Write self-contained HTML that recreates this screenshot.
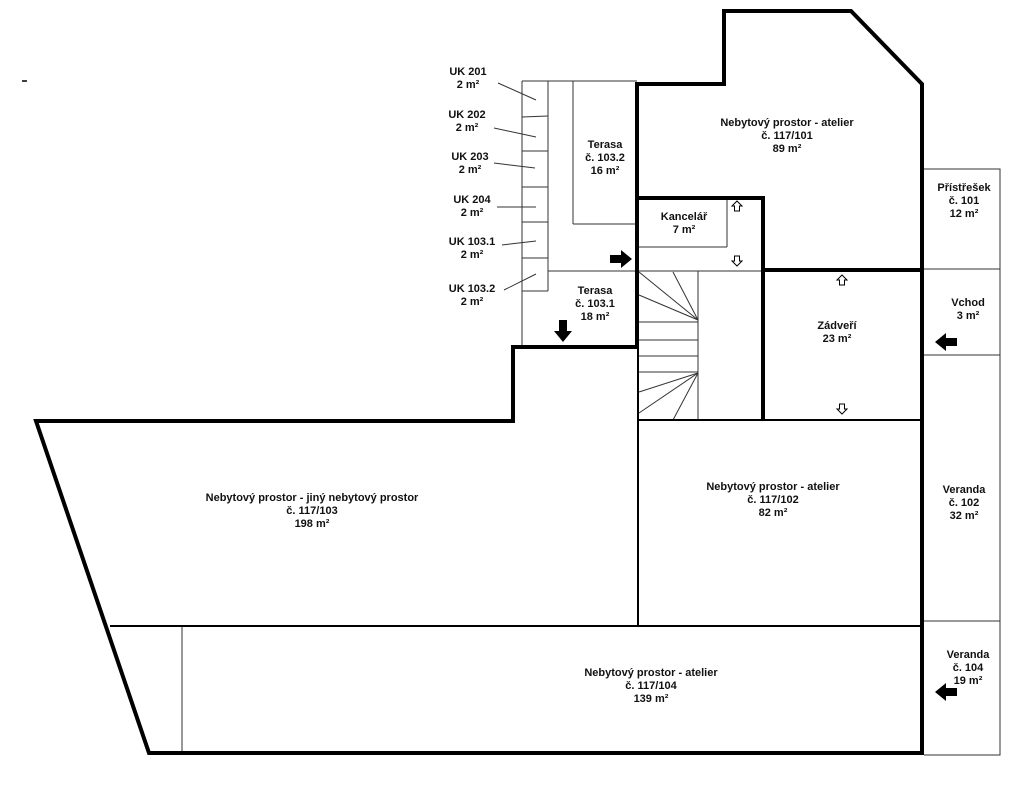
<!DOCTYPE html>
<html><head><meta charset="utf-8"><style>
html,body{margin:0;padding:0;background:#fff;}
svg{display:block;}
text{font-family:"Liberation Sans",Arial,sans-serif;font-size:11px;font-weight:bold;fill:#111;text-anchor:middle;}
</style></head><body>
<svg width="1024" height="786" viewBox="0 0 1024 786" xmlns="http://www.w3.org/2000/svg">
<rect width="1024" height="786" fill="#fff"/>
<line x1="22" y1="81" x2="27" y2="81" stroke="#000" stroke-width="1.5"/>
<!-- thin lines -->
<g stroke="#333" stroke-width="1" fill="none">
 <line x1="522" y1="81" x2="637" y2="81"/>
 <line x1="522" y1="81" x2="522" y2="346"/>
 <line x1="548" y1="81" x2="548" y2="291"/>
 <line x1="522" y1="291" x2="548" y2="291"/>
 <line x1="522" y1="117" x2="548" y2="116"/>
 <line x1="522" y1="151" x2="548" y2="151"/>
 <line x1="522" y1="187" x2="548" y2="187"/>
 <line x1="522" y1="222" x2="548" y2="222"/>
 <line x1="522" y1="258" x2="548" y2="258"/>
 <line x1="573" y1="81" x2="573" y2="224"/>
 <line x1="573" y1="224" x2="637" y2="224"/>
 <line x1="548" y1="271" x2="637" y2="271"/>
 <line x1="498" y1="83" x2="536" y2="100"/>
 <line x1="494" y1="128" x2="536" y2="137"/>
 <line x1="494" y1="163" x2="535" y2="168"/>
 <line x1="497" y1="207" x2="536" y2="207"/>
 <line x1="502" y1="245" x2="536" y2="241"/>
 <line x1="504" y1="290" x2="536" y2="274"/>
 <!-- kancelar -->
 <line x1="637" y1="247" x2="727" y2="247"/>
 <line x1="727" y1="197" x2="727" y2="247"/>
 <line x1="637" y1="271" x2="763" y2="271"/>
 <!-- stairs -->
 <line x1="698" y1="271" x2="698" y2="420"/>
 <line x1="639" y1="272" x2="698" y2="320"/>
 <line x1="673" y1="272" x2="698" y2="320"/>
 <line x1="639" y1="295" x2="698" y2="320"/>
 <line x1="637" y1="322" x2="698" y2="322"/>
 <line x1="637" y1="340" x2="698" y2="340"/>
 <line x1="637" y1="356" x2="698" y2="356"/>
 <line x1="637" y1="372" x2="698" y2="372"/>
 <line x1="698" y1="373" x2="639" y2="392"/>
 <line x1="698" y1="373" x2="639" y2="413"/>
 <line x1="698" y1="373" x2="673" y2="420"/>
 <line x1="182" y1="626" x2="182" y2="752"/>
 <!-- right column -->
 <polyline points="924,169 1000,169 1000,755 924,755"/>
 <line x1="924" y1="269" x2="1000" y2="269"/>
 <line x1="924" y1="355" x2="1000" y2="355"/>
 <line x1="924" y1="621" x2="1000" y2="621"/>
</g>
<g stroke="#000" stroke-width="2" fill="none">
 <line x1="638" y1="347" x2="638" y2="626"/>
 <line x1="110" y1="626" x2="922" y2="626"/>
 <line x1="637" y1="420" x2="922" y2="420"/>
</g>
<!-- thick lines -->
<g stroke="#000" stroke-width="4" fill="none" stroke-linejoin="miter">
 <polyline points="637,347 637,84 724,84 724,11 851,11 922,84 922,754"/>
 <polyline points="637,347 513,347 513,421 36,421 149,753 924,753"/>
 <polyline points="637,198 763,198 763,421"/>
 <line x1="763" y1="270" x2="922" y2="270"/>
</g>
<!-- black arrows -->
<g fill="#000">
 <polygon points="610,255 621,255 621,250 632,259 621,268 621,263 610,263"/>
 <polygon points="559,320 567,320 567,331 572,331 563,342 554,331 559,331"/>
 <polygon points="957,338 946,338 946,333 935,342 946,351 946,346 957,346"/>
 <polygon points="957,688 946,688 946,683 935,692 946,701 946,696 957,696"/>
</g>
<!-- hollow arrows -->
<g fill="#fff" stroke="#000" stroke-width="1">
 <polygon points="737,201 742,206 739.5,206 739.5,211 734.5,211 734.5,206 732,206"/>
 <polygon points="737,266 742,261 739.5,261 739.5,256 734.5,256 734.5,261 732,261"/>
 <polygon points="842,275 847,280 844.5,280 844.5,285 839.5,285 839.5,280 837,280"/>
 <polygon points="842,414 847,409 844.5,409 844.5,404 839.5,404 839.5,409 837,409"/>
</g>
<!-- labels -->
<text x="468" y="75">UK 201</text><text x="468" y="88">2 m²</text>
<text x="467" y="118">UK 202</text><text x="467" y="131">2 m²</text>
<text x="470" y="160">UK 203</text><text x="470" y="173">2 m²</text>
<text x="472" y="203">UK 204</text><text x="472" y="216">2 m²</text>
<text x="472" y="245">UK 103.1</text><text x="472" y="258">2 m²</text>
<text x="472" y="292">UK 103.2</text><text x="472" y="305">2 m²</text>
<text x="605" y="148">Terasa</text><text x="605" y="161">č. 103.2</text><text x="605" y="174">16 m²</text>
<text x="595" y="294">Terasa</text><text x="595" y="307">č. 103.1</text><text x="595" y="320">18 m²</text>
<text x="787" y="126">Nebytový prostor - atelier</text><text x="787" y="139">č. 117/101</text><text x="787" y="152">89 m²</text>
<text x="684" y="220">Kancelář</text><text x="684" y="233">7 m²</text>
<text x="837" y="329">Zádveří</text><text x="837" y="342">23 m²</text>
<text x="964" y="191">Přístřešek</text><text x="964" y="204">č. 101</text><text x="964" y="217">12 m²</text>
<text x="968" y="306">Vchod</text><text x="968" y="319">3 m²</text>
<text x="964" y="493">Veranda</text><text x="964" y="506">č. 102</text><text x="964" y="519">32 m²</text>
<text x="968" y="658">Veranda</text><text x="968" y="671">č. 104</text><text x="968" y="684">19 m²</text>
<text x="773" y="490">Nebytový prostor - atelier</text><text x="773" y="503">č. 117/102</text><text x="773" y="516">82 m²</text>
<text x="312" y="501">Nebytový prostor - jiný nebytový prostor</text><text x="312" y="514">č. 117/103</text><text x="312" y="527">198 m²</text>
<text x="651" y="676">Nebytový prostor - atelier</text><text x="651" y="689">č. 117/104</text><text x="651" y="702">139 m²</text>
</svg>
</body></html>
